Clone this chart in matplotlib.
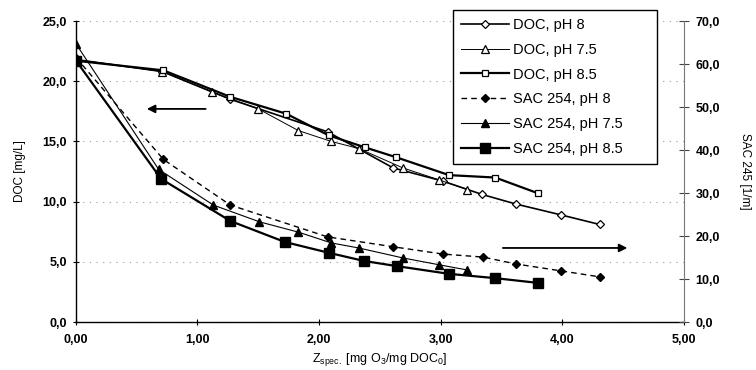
import matplotlib
matplotlib.use("Agg")
import matplotlib.pyplot as plt
from matplotlib.ticker import FuncFormatter, MultipleLocator

plt.rcParams['font.family'] = ['Liberation Sans', 'DejaVu Sans']
plt.rcParams['mathtext.fontset'] = 'custom'
plt.rcParams['mathtext.rm'] = 'Liberation Sans'
plt.rcParams['mathtext.it'] = 'Liberation Sans'

# DOC series (left axis, mg/L)
doc_ph8_x = [0.00, 0.71, 1.27, 2.07, 2.61, 3.02, 3.34, 3.62, 3.99, 4.31]
doc_ph8_y = [21.8, 20.8, 18.5, 15.8, 12.8, 11.7, 10.6, 9.8, 8.9, 8.1]
doc_ph75_x = [0.00, 0.71, 1.12, 1.50, 1.83, 2.10, 2.33, 2.69, 2.99, 3.22]
doc_ph75_y = [21.8, 20.8, 19.1, 17.7, 15.9, 15.0, 14.4, 12.8, 11.8, 11.0]
doc_ph85_x = [0.00, 0.72, 1.27, 1.73, 2.08, 2.38, 2.63, 3.07, 3.45, 3.80]
doc_ph85_y = [21.7, 20.9, 18.7, 17.3, 15.5, 14.5, 13.7, 12.2, 12.0, 10.7]

# SAC 254 series (right axis, 1/m)
sac_ph8_x = [0.00, 0.72, 1.27, 2.07, 2.61, 3.02, 3.35, 3.62, 3.99, 4.31]
sac_ph8_y = [61.5, 37.8, 27.2, 19.8, 17.5, 15.8, 15.1, 13.5, 11.9, 10.5]
sac_ph75_x = [0.00, 0.68, 1.13, 1.51, 1.83, 2.10, 2.33, 2.69, 2.99, 3.22]
sac_ph75_y = [64.7, 35.5, 27.2, 23.3, 20.9, 18.4, 17.2, 14.9, 13.3, 12.1]
sac_ph85_x = [0.00, 0.70, 1.27, 1.72, 2.08, 2.37, 2.64, 3.07, 3.45, 3.80]
sac_ph85_y = [60.8, 33.3, 23.5, 18.6, 16.1, 14.2, 13.0, 11.2, 10.2, 9.1]

fig = plt.figure(figsize=(7.56, 3.70), dpi=100)
ax = fig.add_axes([0.1005, 0.1297, 0.8037, 0.8135])
ax2 = ax.twinx()

# left axis lines
l1, = ax.plot(doc_ph8_x, doc_ph8_y, color='black', lw=1.2, marker='D', ms=4,
              mfc='white', mec='black', mew=0.9, label='DOC, pH 8')
l2, = ax.plot(doc_ph75_x, doc_ph75_y, color='black', lw=0.7, marker='^', ms=5.5,
              mfc='white', mec='black', mew=0.9, label='DOC, pH 7.5')
l3, = ax.plot(doc_ph85_x, doc_ph85_y, color='black', lw=1.6, marker='s', ms=5,
              mfc='white', mec='black', mew=0.9, label='DOC, pH 8.5')

# right axis lines
l4, = ax2.plot(sac_ph8_x, sac_ph8_y, color='black', lw=1.0, ls=(0, (4, 3)), marker='D',
               ms=4.5, mfc='black', mec='black', label='SAC 254, pH 8')
l5, = ax2.plot(sac_ph75_x, sac_ph75_y, color='black', lw=0.8, marker='^', ms=6,
               mfc='black', mec='black', label='SAC 254, pH 7.5')
l6, = ax2.plot(sac_ph85_x, sac_ph85_y, color='black', lw=1.6, marker='s', ms=6.5,
               mfc='black', mec='black', label='SAC 254, pH 8.5')

# arrows pointing to the axis each group belongs to
ax.annotate('', xy=(0.56, 17.7), xytext=(1.09, 17.7),
            arrowprops=dict(arrowstyle='-|>', color='black', lw=1.3, mutation_scale=12))
ax.annotate('', xy=(4.56, 6.15), xytext=(3.49, 6.15),
            arrowprops=dict(arrowstyle='-|>', color='black', lw=1.3, mutation_scale=12))

ax.set_xlim(0, 5)
ax.set_ylim(0, 25)
ax2.set_ylim(0, 70)
ax.xaxis.set_major_locator(MultipleLocator(1))
ax.yaxis.set_major_locator(MultipleLocator(5))
ax2.yaxis.set_major_locator(MultipleLocator(10))

comma1 = FuncFormatter(lambda v, p: ('%.1f' % v).replace('.', ','))
comma2 = FuncFormatter(lambda v, p: ('%.2f' % v).replace('.', ','))
ax.yaxis.set_major_formatter(comma1)
ax2.yaxis.set_major_formatter(comma1)
ax.xaxis.set_major_formatter(comma2)

ax.grid(axis='y', color='#999999', lw=0.8, ls=(0, (1, 5)))
ax.set_axisbelow(True)

for a in (ax, ax2):
    a.spines['top'].set_visible(False)
ax.spines['right'].set_visible(False)
ax2.spines['left'].set_visible(False)
ax2.spines['bottom'].set_visible(False)
ax2.spines['right'].set_color('#777777')
ax.spines['left'].set_linewidth(1.0)
ax.spines['bottom'].set_linewidth(1.0)

ax.tick_params(axis='both', direction='inout', length=5, width=0.8, labelsize=9, pad=4)
ax.tick_params(axis='x', pad=6)
ax2.tick_params(axis='y', direction='inout', length=7, width=0.8, labelsize=9,
                color='#444444', pad=5)
for t in ax.get_xticklabels() + ax.get_yticklabels() + ax2.get_yticklabels():
    t.set_fontweight('bold')

ax.set_ylabel('DOC [mg/L]', fontsize=8.5, labelpad=12)
ax2.set_ylabel('SAC 245 [1/m]', fontsize=8.5, rotation=-90, labelpad=22)
ax.set_xlabel(r'Z$_{\mathrm{spec.}}$ [mg O$_3$/mg DOC$_0$]', fontsize=9, labelpad=4)

fig.legend(handles=[l1, l2, l3, l4, l5, l6], loc='upper left',
           bbox_to_anchor=(0.599, 0.557, 0.27, 0.416), mode='expand',
           fontsize=10.5, frameon=True, fancybox=False,
           edgecolor='black', framealpha=1, handlelength=3.3, labelspacing=0.74,
           borderpad=0.55, handletextpad=0.25, borderaxespad=0)

fig.savefig('out.png', dpi=100)
